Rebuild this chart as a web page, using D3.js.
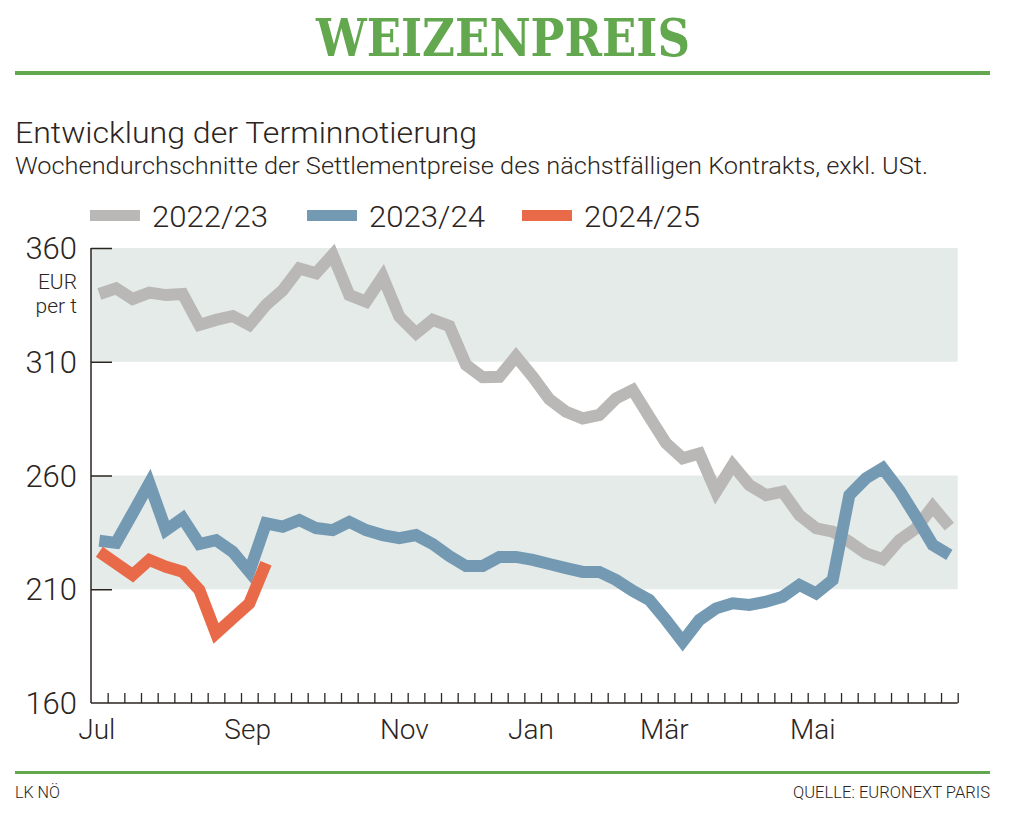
<!DOCTYPE html>
<html><head><meta charset="utf-8">
<script src="https://cdn.jsdelivr.net/npm/d3@7"></script>
<style>
html,body{margin:0;padding:0;background:#fff;}
svg{display:block;}
.cond{font-family:Roboto,"Open Sans",sans-serif;font-weight:300;}
</style></head>
<body>
<svg id="chart" width="1025" height="825"></svg>
<script>
// ---- data ----
const seriesNames = ["2022/23", "2023/24", "2024/25"];
const s2022 = [339.8,342.3,337.6,340.4,339.3,339.8,326.2,328.4,330.1,326.2,335,341.4,351,348.9,357,339.3,336.4,347.4,329.8,322.5,328.4,325.7,308.6,303.2,303.4,312.3,303.4,293.5,288,285.1,286.6,293.9,297.6,285.8,274.2,267.6,269.7,252.9,264.6,255.8,251.4,252.9,242.6,236.8,235.3,230.9,225.8,223.2,231.6,236.8,246.3,237.5];
const s2023 = [231.3,230.4,243.4,256.6,236,241.2,229.9,231.6,226.5,217.7,239,237.5,240.4,236.9,236,239.6,236,233.8,232.5,233.8,229.9,224.6,220.2,220.2,224.2,224.2,222.9,221.1,219.3,217.6,217.6,214.1,209.3,205.3,196.5,187,196.5,201.6,203.8,203.1,204.5,206.7,211.9,208.2,214.1,251.4,258.8,263.2,253.6,241.8,229.5,225.1];
const s2024 = [226.5,221.4,216.3,222.9,219.9,217.7,209.7,190.6,197.2,203.8,221.4];
const yTicks = [160, 210, 260, 310, 360];
const bands = [[210, 260], [310, 360]];
const monthLabels = ["Jul", "Sep", "Nov", "Jan", "Mär", "Mai"];
const monthWeeks = [0.35, 9.4, 18.8, 26.4, 34.4, 43.3];
const nWeeks = 52;
const colors = ["#bab8b6", "#7399b3", "#e96a48"];

// ---- layout ----
const svg = d3.select("#chart");
const x = d3.scaleLinear().domain([0, nWeeks]).range([91, 957.7]);
const y = d3.scaleLinear().domain([160, 360]).range([703, 248]);
const green = "#63a84f";
const ink = "#2b2522";

// title
svg.append("text").attr("x", 503).attr("y", 56).attr("text-anchor", "middle")
  .attr("font-family", "'DejaVu Serif Condensed','Liberation Serif',serif").attr("font-weight", "bold")
  .attr("font-size", 52).attr("fill", green).attr("textLength", 374).attr("lengthAdjust", "spacingAndGlyphs")
  .text("WEIZENPREIS");
svg.append("rect").attr("x", 15).attr("y", 71).attr("width", 975).attr("height", 4).attr("fill", green);

svg.append("text").attr("class", "cond").attr("x", 15).attr("y", 143).attr("font-size", 29).attr("fill", ink)
  .attr("textLength", 462).attr("lengthAdjust", "spacingAndGlyphs").text("Entwicklung der Terminnotierung");
svg.append("text").attr("class", "cond").attr("x", 15).attr("y", 174).attr("font-size", 23).attr("fill", ink)
  .attr("textLength", 913).attr("lengthAdjust", "spacingAndGlyphs")
  .text("Wochendurchschnitte der Settlementpreise des nächstfälligen Kontrakts, exkl. USt.");

// legend
const legX = [90, 307, 522];
const legW = [116, 116, 116];
seriesNames.forEach((n, i) => {
  svg.append("rect").attr("x", legX[i]).attr("y", 210).attr("width", 50).attr("height", 11).attr("fill", colors[i]);
  svg.append("text").attr("class", "cond").attr("x", legX[i] + 62).attr("y", 227).attr("font-size", 29).attr("fill", ink)
    .attr("textLength", legW[i]).attr("lengthAdjust", "spacingAndGlyphs").text(n);
});

// bands
svg.append("g").selectAll("rect").data(bands).join("rect")
  .attr("x", x(0)).attr("width", x(nWeeks) - x(0))
  .attr("y", d => y(d[1])).attr("height", d => y(d[0]) - y(d[1]))
  .attr("fill", "#e4ebe8");

// y axis
const yAxis = svg.append("g").attr("transform", `translate(${x(0)},0)`)
  .call(d3.axisRight(y).tickValues(yTicks.filter(v => v > 160)).tickSize(21).tickFormat(""));
yAxis.select(".domain").remove();
yAxis.selectAll("line").attr("stroke", ink).attr("stroke-width", 1.5);
svg.append("line").attr("x1", x(0)).attr("x2", x(0)).attr("y1", y(360)).attr("y2", y(160))
  .attr("stroke", ink).attr("stroke-width", 1.5);
svg.append("g").selectAll("text").data(yTicks).join("text").attr("class", "cond")
  .attr("x", 77).attr("y", d => y(d) + 11).attr("text-anchor", "end").attr("font-size", 31).attr("fill", ink)
  .text(d => d);
svg.append("text").attr("class", "cond").attr("x", 77).attr("y", 289).attr("text-anchor", "end").attr("font-size", 21).attr("fill", ink).text("EUR");
svg.append("text").attr("class", "cond").attr("x", 77).attr("y", 313).attr("text-anchor", "end").attr("font-size", 21).attr("fill", ink).text("per t");

// x axis
const xAxis = svg.append("g").attr("transform", `translate(0,${y(160)})`)
  .call(d3.axisTop(x).tickValues(d3.range(1, nWeeks + 1)).tickSize(10).tickFormat(""));
xAxis.select(".domain").remove();
xAxis.selectAll("line").attr("stroke", ink).attr("stroke-width", 1.3);
svg.append("line").attr("x1", x(0)).attr("x2", x(nWeeks)).attr("y1", y(160)).attr("y2", y(160))
  .attr("stroke", ink).attr("stroke-width", 1.5);
svg.append("g").selectAll("text").data(monthLabels).join("text").attr("class", "cond")
  .attr("x", (d, i) => x(monthWeeks[i])).attr("y", 739).attr("text-anchor", "middle")
  .attr("font-size", 28).attr("fill", ink).text(d => d);

// lines
const line = d3.line().x((d, i) => x(i + 0.5)).y(d => y(d)).curve(d3.curveLinear);
[s2022, s2023, s2024].forEach((s, i) => {
  svg.append("path").datum(s).attr("d", line).attr("fill", "none")
    .attr("stroke", colors[i]).attr("stroke-width", 12).attr("stroke-linejoin", "miter").attr("stroke-miterlimit", 3);
});

// footer
svg.append("rect").attr("x", 15).attr("y", 771).attr("width", 975).attr("height", 3).attr("fill", green);
svg.append("text").attr("class", "cond").attr("x", 15).attr("y", 798).attr("font-size", 17).attr("fill", ink)
  .attr("textLength", 45).attr("lengthAdjust", "spacingAndGlyphs").text("LK NÖ");
svg.append("text").attr("class", "cond").attr("x", 990).attr("y", 798).attr("text-anchor", "end").attr("font-size", 17).attr("fill", ink)
  .attr("textLength", 197).attr("lengthAdjust", "spacingAndGlyphs").text("QUELLE: EURONEXT PARIS");
</script>
</body></html>
